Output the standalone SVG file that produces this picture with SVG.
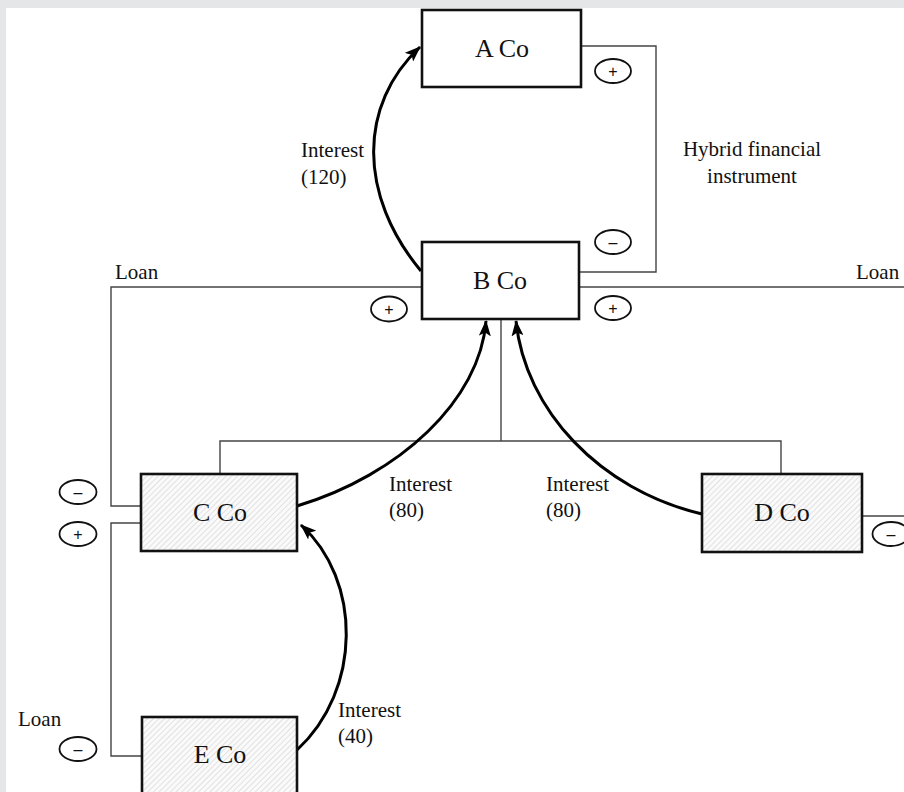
<svg xmlns="http://www.w3.org/2000/svg" width="904" height="792" viewBox="0 0 904 792">
  <style>
    .box { stroke: #111; stroke-width: 2.6; }
    .plain { fill: #fff; }
    .hatched { fill: url(#hatch); }
    .label { font-family: "Liberation Serif", "Times New Roman", serif; font-size: 26px; fill: #111; text-anchor: middle; }
    .note { font-family: "Liberation Serif", "Times New Roman", serif; font-size: 21px; fill: #111; }
    .note-c { text-anchor: middle; }
    .link { fill: none; stroke: #444; stroke-width: 1.4; }
    .flow { fill: none; stroke: #000; stroke-width: 3; marker-end: url(#arrow); }
    .sign { fill: #fff; stroke: #111; stroke-width: 1.8; }
    .sign-t { font-family: "Liberation Sans", Arial, sans-serif; font-size: 16px; fill: #111; text-anchor: middle; }
  </style>
  <defs>
    <pattern id="hatch" width="4" height="4" patternUnits="userSpaceOnUse" patternTransform="rotate(45)">
      <rect width="4" height="4" fill="#fafafa"/>
      <line x1="0" y1="0" x2="0" y2="4" stroke="#c4c4c4" stroke-width="0.9"/>
    </pattern>
    <marker id="arrow" viewBox="0 0 16 12" refX="15" refY="6" markerWidth="16" markerHeight="12" markerUnits="userSpaceOnUse" orient="auto">
      <path d="M0,0 L16,6 L0,12 L3.5,6 Z" fill="#000"/>
    </marker>
  </defs>

  <!-- page frame -->
  <rect x="0" y="0" width="904" height="792" fill="#e5e6e8"/>
  <rect x="6" y="8" width="898" height="784" fill="#fff"/>

  <!-- ownership / loan lines -->
  <g id="connectors">
    <!-- hybrid instrument A Co - B Co -->
    <polyline class="link" points="581,46 656,46 656,272 579,272"/>
    <!-- loans from B Co -->
    <polyline class="link" points="422,287 111,287 111,506 141,506"/>
    <line class="link" x1="579" y1="287" x2="904" y2="287"/>
    <!-- loan C Co - E Co -->
    <polyline class="link" points="141,523 111,523 111,756 142,756"/>
    <!-- D Co loan -->
    <line class="link" x1="862" y1="516" x2="904" y2="516"/>
    <!-- B Co ownership of C Co and D Co -->
    <line class="link" x1="501" y1="319" x2="501" y2="441"/>
    <polyline class="link" points="220,474 220,441 781,441 781,474"/>

    <!-- interest flows -->
    <path class="flow" d="M421,271 C358,195 358,105 420,47"/>
    <path class="flow" d="M297,506 C400,475 480,400 486,321"/>
    <path class="flow" d="M702,514 C600,490 525,410 516,321"/>
    <path class="flow" d="M297,750 C362,690 362,580 301,525"/>
  </g>

  <!-- companies -->
  <g id="a-co">
    <rect class="box plain" x="422" y="10" width="159" height="77"/>
    <text class="label" x="502" y="57">A Co</text>
  </g>
  <g id="b-co">
    <rect class="box plain" x="422" y="242" width="157" height="77"/>
    <text class="label" x="500" y="289">B Co</text>
  </g>
  <g id="c-co">
    <rect class="box hatched" x="141" y="474" width="156" height="77"/>
    <text class="label" x="220" y="521">C Co</text>
  </g>
  <g id="d-co">
    <rect class="box hatched" x="702" y="474" width="160" height="78"/>
    <text class="label" x="782" y="521">D Co</text>
  </g>
  <g id="e-co">
    <rect class="box hatched" x="142" y="717" width="155" height="90"/>
    <text class="label" x="220" y="763">E Co</text>
  </g>

  <!-- sign markers -->
  <g id="signs">
    <ellipse class="sign" cx="613" cy="71" rx="18" ry="12"/>
    <text class="sign-t" x="613" y="77">+</text>
    <ellipse class="sign" cx="613" cy="242" rx="18" ry="12"/>
    <text class="sign-t" x="613" y="248">–</text>
    <ellipse class="sign" cx="613" cy="308" rx="18" ry="12"/>
    <text class="sign-t" x="613" y="314">+</text>
    <ellipse class="sign" cx="389" cy="309" rx="18" ry="12.5"/>
    <text class="sign-t" x="389" y="315">+</text>
    <ellipse class="sign" cx="78" cy="492" rx="18.5" ry="12"/>
    <text class="sign-t" x="78" y="498">–</text>
    <ellipse class="sign" cx="78" cy="534" rx="18.5" ry="12"/>
    <text class="sign-t" x="78" y="540">+</text>
    <ellipse class="sign" cx="78" cy="749" rx="18.5" ry="12"/>
    <text class="sign-t" x="78" y="755">–</text>
    <ellipse class="sign" cx="891" cy="534" rx="18.5" ry="12"/>
    <text class="sign-t" x="891" y="540">–</text>
  </g>

  <!-- labels -->
  <g id="labels">
    <text class="note" x="301" y="157">Interest</text>
    <text class="note" x="301" y="184">(120)</text>
    <text class="note note-c" x="752" y="156">Hybrid financial</text>
    <text class="note note-c" x="752" y="183">instrument</text>
    <text class="note" x="115" y="279">Loan</text>
    <text class="note" x="856" y="279">Loan</text>
    <text class="note" x="389" y="491">Interest</text>
    <text class="note" x="389" y="517">(80)</text>
    <text class="note" x="546" y="491">Interest</text>
    <text class="note" x="546" y="517">(80)</text>
    <text class="note" x="18" y="726">Loan</text>
    <text class="note" x="338" y="717">Interest</text>
    <text class="note" x="338" y="743">(40)</text>
  </g>
</svg>
